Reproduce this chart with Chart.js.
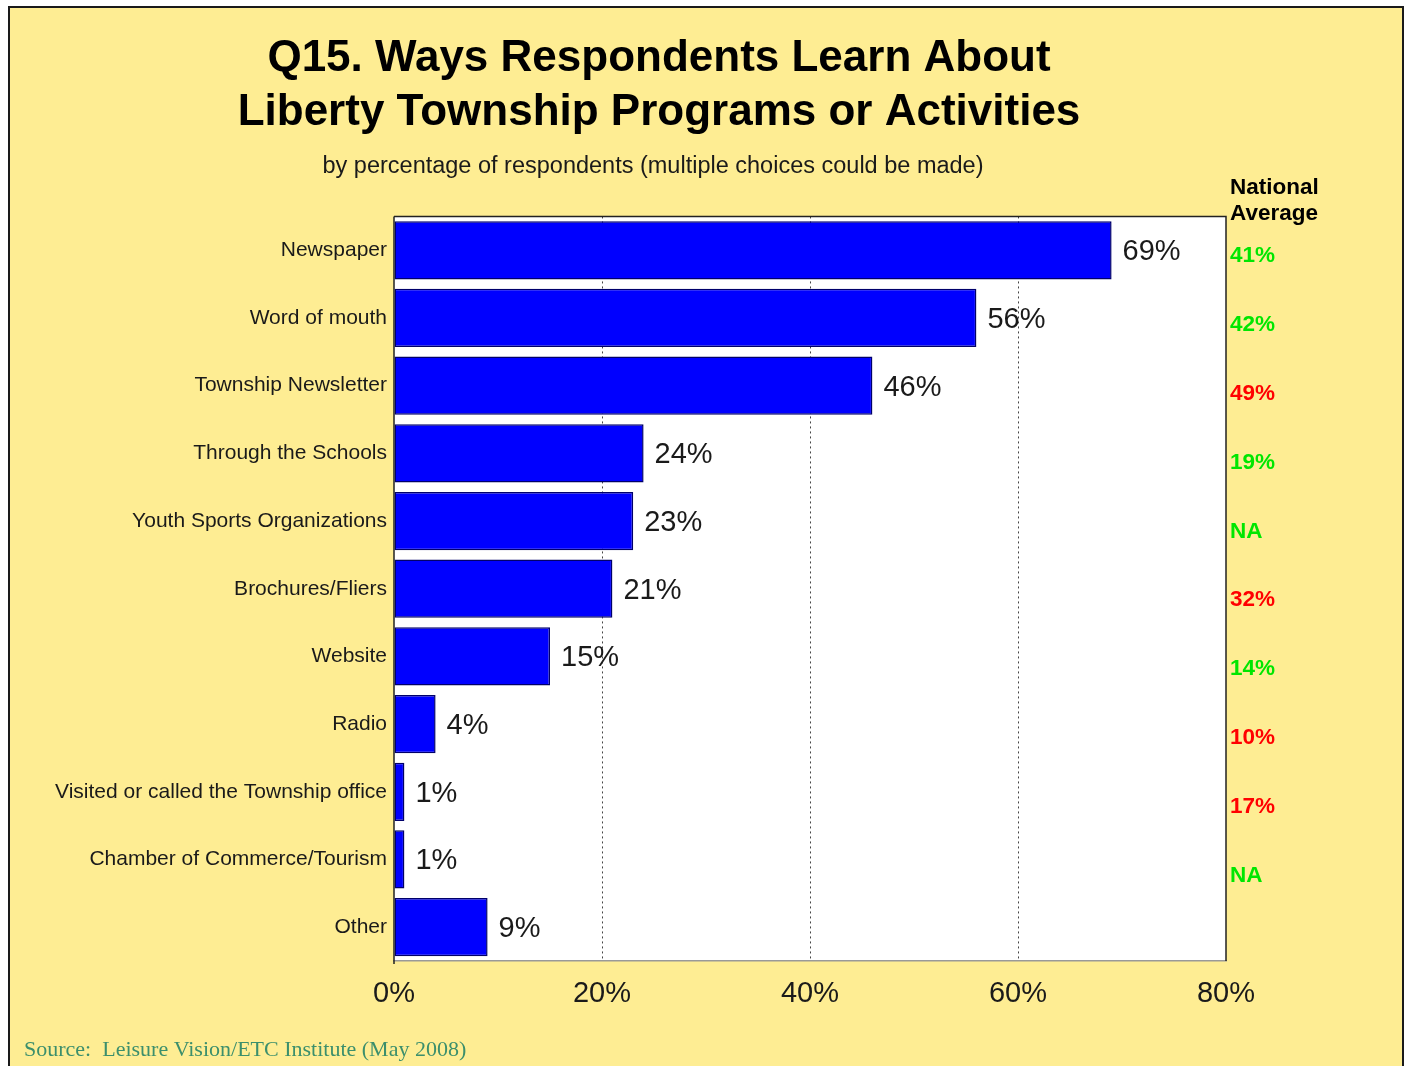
<!DOCTYPE html>
<html>
<head>
<meta charset="utf-8">
<script src="https://cdn.jsdelivr.net/npm/chart.js@4.4.1/dist/chart.umd.min.js"></script>
<style>
  html, body { margin: 0; padding: 0; background: #fff; overflow: hidden; }
  #frame {
    position: absolute; left: 8px; top: 6px; width: 1392px; height: 1080px;
    border: 2px solid #1a1a1a; background: #FEED93;
  }
  #wrap { position: absolute; left: 0; top: 0; width: 1405px; height: 1066px; }
</style>
</head>
<body>
<div id="frame"></div>
<div id="wrap"><canvas id="chart" width="1405" height="1066"></canvas></div>
<script>
const categories = [
  'Newspaper', 'Word of mouth', 'Township Newsletter', 'Through the Schools',
  'Youth Sports Organizations', 'Brochures/Fliers', 'Website', 'Radio',
  'Visited or called the Township office', 'Chamber of Commerce/Tourism', 'Other'
];
const respondents = [69, 56, 46, 24, 23, 21, 15, 4, 1, 1, 9];
const nationalAverage = [41, 42, 49, 19, null, 32, 14, 10, 17, null];
const xTicks = [0, 20, 40, 60, 80];

const FONT = '"Liberation Sans", Arial, Helvetica, sans-serif';

const extras = {
  id: 'extras',
  afterLayout(chart) {
    // title block sits left of the plot centre in the original
    chart.boxes.forEach(b => {
      if (b.position === 'top') {
        const shift = b === chart.titleBlock ? 31 : 25;
        b.left += shift; b.right += shift;
      }
    });
  },
  beforeDraw(chart) {
    const { ctx, chartArea: a } = chart;
    ctx.save();
    ctx.fillStyle = '#fff';
    ctx.fillRect(a.left, a.top, a.right - a.left, a.bottom - a.top);
    ctx.restore();
  },
  afterDraw(chart) {
    const { ctx, chartArea: a } = chart;
    const x = chart.scales.x, y = chart.scales.y;
    ctx.save();
    // plot frame
    ctx.strokeStyle = '#222';
    ctx.lineWidth = 1.5;
    ctx.beginPath();
    ctx.moveTo(a.left, a.top); ctx.lineTo(a.right, a.top); ctx.lineTo(a.right, a.bottom);
    ctx.stroke();
    ctx.beginPath();
    ctx.moveTo(a.left, a.top); ctx.lineTo(a.left, a.bottom + 3);
    ctx.stroke();

    // bar value labels
    ctx.font = '29px ' + FONT;
    ctx.fillStyle = '#1a1a1a';
    ctx.textAlign = 'left';
    ctx.textBaseline = 'middle';
    respondents.forEach((v, i) => {
      ctx.fillText(v + '%', x.getPixelForValue(v) + 11, y.getPixelForValue(i) + 2);
    });

    // national average column
    const nx = a.right + 4;
    ctx.font = 'bold 22.5px ' + FONT;
    ctx.fillStyle = '#000';
    ctx.fillText('National', nx, 188);
    ctx.fillText('Average', nx, 214);
    nationalAverage.forEach((n, i) => {
      const good = n === null || respondents[i] >= n;
      ctx.fillStyle = good ? '#00E600' : '#FF0000';
      ctx.fillText(n === null ? 'NA' : n + '%', nx, y.getPixelForValue(i) + 6 + i * 1.1);
    });

    // source
    ctx.font = '22px "Liberation Serif", "Times New Roman", serif';
    ctx.fillStyle = '#3C8F6C';
    ctx.fillText('Source:  Leisure Vision/ETC Institute (May 2008)', 24, 1050);
    ctx.restore();
  }
};

new Chart(document.getElementById('chart'), {
  type: 'bar',
  data: {
    labels: categories,
    datasets: [{
      data: respondents,
      backgroundColor: '#0000FF',
      borderColor: '#00006A',
      borderWidth: 1.5,
      borderSkipped: false,
      barPercentage: 0.86,
      categoryPercentage: 1
    }]
  },
  options: {
    indexAxis: 'y',
    responsive: false,
    animation: false,
    layout: { padding: { left: 30, right: 179, top: 0, bottom: 45 } },
    plugins: {
      legend: { display: false },
      tooltip: { enabled: false },
      title: {
        display: true,
        text: ['Q15. Ways Respondents Learn About', 'Liberty Township Programs or Activities'],
        color: '#000',
        font: { family: FONT, size: 44, weight: 'bold', lineHeight: 1.23 },
        padding: { top: 32, bottom: 12 }
      },
      subtitle: {
        display: true,
        text: 'by percentage of respondents (multiple choices could be made)',
        color: '#1a1a1a',
        font: { family: FONT, size: 23.5, lineHeight: 1.2 },
        padding: { top: 0, bottom: 36 }
      }
    },
    scales: {
      x: {
        min: 0, max: 80,
        afterBuildTicks: (s) => { s.ticks = xTicks.map(v => ({ value: v })); },
        afterFit: (s) => { s.height = 60; },
        ticks: {
          callback: (v) => v + '%',
          color: '#1a1a1a',
          font: { family: FONT, size: 29 },
          padding: 16
        },
        grid: {
          color: (c) => (c.tick && (c.tick.value === 0 || c.tick.value === 80)) ? 'rgba(0,0,0,0)' : '#444',
          lineWidth: 1,
          drawTicks: false
        },
        border: { display: true, color: '#999', width: 1.5, dash: [2, 3] }
      },
      y: {
        afterFit: (s) => { s.width = 394 - 30; },
        ticks: {
          color: '#1a1a1a',
          font: { family: FONT, size: 21 },
          padding: 7,
          autoSkip: false
        },
        grid: { display: false, drawTicks: false },
        border: { display: false }
      }
    }
  },
  plugins: [extras]
});
</script>
</body>
</html>
